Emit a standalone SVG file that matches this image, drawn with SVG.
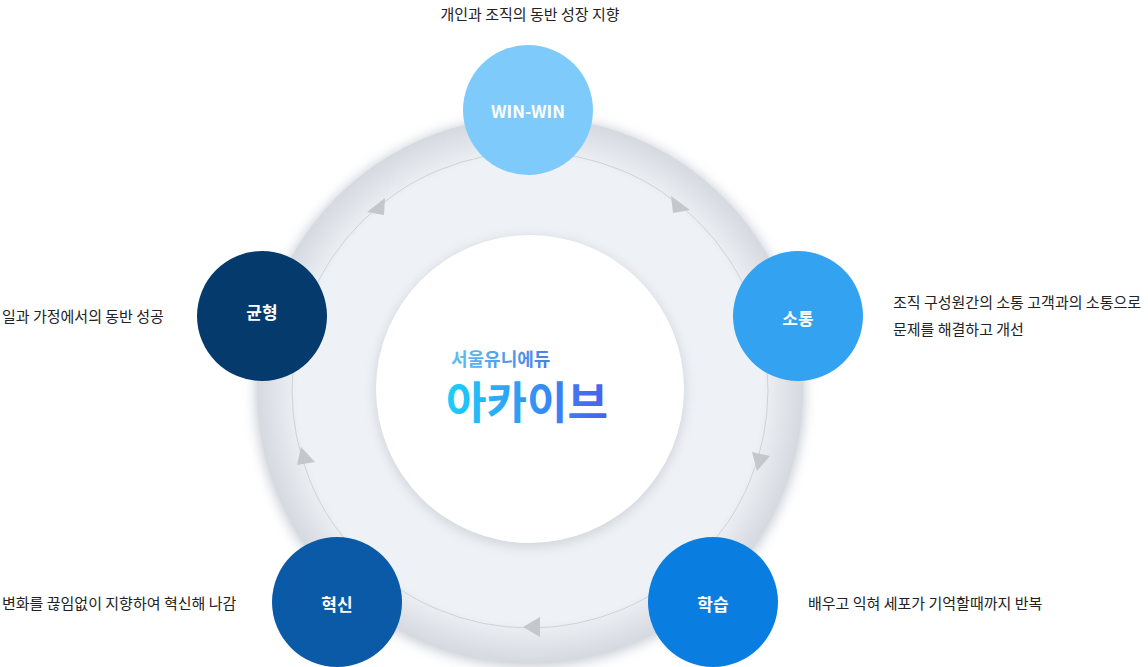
<svg xmlns="http://www.w3.org/2000/svg" width="1148" height="667" viewBox="0 0 1148 667">
<defs>
<style>
.lbl{font-family:"Noto Sans CJK KR","Noto Sans",sans-serif;font-size:15px;fill:#222}
.nt{font-family:"Noto Sans CJK KR","Noto Sans",sans-serif;font-size:17px;font-weight:bold;fill:#fff;text-anchor:middle}
.ar{fill:#c4c7cc}
</style>
<radialGradient id="rg" cx="0.5" cy="0.5" r="0.5">
<stop offset="0.85" stop-color="#eef1f5"/>
<stop offset="1" stop-color="#d5d9e0"/>
</radialGradient>
<linearGradient id="lg1" x1="0" x2="1"><stop offset="0" stop-color="#5fc0f0"/><stop offset="1" stop-color="#4a7ee6"/></linearGradient>
<linearGradient id="lg2" x1="0" x2="1"><stop offset="0" stop-color="#1ad0fa"/><stop offset="1" stop-color="#4a5ff0"/></linearGradient>
<filter id="sh" x="-20%" y="-20%" width="140%" height="140%"><feGaussianBlur stdDeviation="6"/></filter>
</defs>
<rect width="1148" height="667" fill="#fff"/>
<circle cx="530" cy="392" r="275" fill="#c9ced6" filter="url(#sh)"/>
<circle cx="530" cy="390" r="273" fill="url(#rg)"/>
<circle cx="530" cy="390" r="238" fill="none" stroke="#cfd3d8" stroke-width="1"/>
<circle cx="530" cy="392" r="155" fill="#d0d5dc" filter="url(#sh)"/>
<circle cx="530" cy="389" r="154" fill="#fff"/>
<g id="connectors">
<polygon class="ar" points="671,196 690,210 673,213"/>
<polygon class="ar" points="752,452 770,456 757,471"/>
<polygon class="ar" points="540,617 540,637 523,627"/>
<polygon class="ar" points="297,465 301,447 315,462"/>
<polygon class="ar" points="367,212 385,198 384,215"/>
</g>
<g id="center">
<text x="451" y="366" font-family="'Noto Sans CJK KR',sans-serif" font-size="18" font-weight="bold" fill="url(#lg1)">서울유니에듀</text>
<text x="446" y="419" font-family="'Noto Sans CJK KR',sans-serif" font-size="44" font-weight="bold" fill="url(#lg2)">아카이브</text>
</g>
<g id="winwin"><circle cx="528" cy="110" r="65" fill="#7ecbfb"/><text class="nt" x="528" y="118">WIN-WIN</text>
<text class="lbl" x="530" y="20" text-anchor="middle">개인과 조직의 동반 성장 지향</text></g>
<g id="sotong"><circle cx="798" cy="316" r="65" fill="#33a2f0"/><text class="nt" x="798" y="325">소통</text>
<text class="lbl" x="893" y="308">조직 구성원간의 소통 고객과의 소통으로</text><text class="lbl" x="893" y="335">문제를 해결하고 개선</text></g>
<g id="hakseup"><circle cx="713" cy="602" r="65" fill="#0a7ee0"/><text class="nt" x="713" y="611">학습</text>
<text class="lbl" x="808" y="609">배우고 익혀 세포가 기억할때까지 반복</text></g>
<g id="hyeoksin"><circle cx="337" cy="602" r="65" fill="#0a5aa8"/><text class="nt" x="337" y="611">혁신</text>
<text class="lbl" x="2" y="609">변화를 끊임없이 지향하여 혁신해 나감</text></g>
<g id="gyunhyeong"><circle cx="262" cy="316" r="65" fill="#043a6c"/><text class="nt" x="262" y="319">균형</text>
<text class="lbl" x="2" y="322">일과 가정에서의 동반 성공</text></g>
</svg>
